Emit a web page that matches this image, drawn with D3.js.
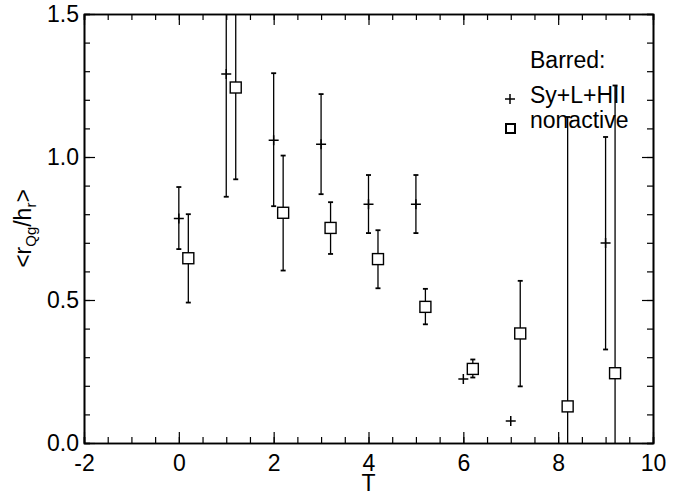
<!DOCTYPE html>
<html>
<head>
<meta charset="UTF-8">
<title>r_Qg/h_r vs T</title>
<script src="https://d3js.org/d3.v7.min.js"></script>
<style>
  body { margin: 0; background: #fff; }
  svg text { font-family: "Liberation Sans", Arial, sans-serif; fill: #000; }
</style>
</head>
<body>
<div id="chart"></div>
<script>
// Sy+L+HII (plus symbols)
var plusT = [0, 1, 2, 3, 4, 5, 6, 7, 9];
var plusVal = [0.785, 1.290, 1.059, 1.045, 0.835, 0.835, 0.224, 0.077, 0.699];
var plusLo = [0.678, 0.861, 0.828, 0.870, 0.734, 0.734, null, null, 0.327];
var plusHi = [0.895, 1.720, 1.293, 1.220, 0.937, 0.937, null, null, 1.070];

// nonactive (squares)
var sqT = [0.2, 1.2, 2.2, 3.2, 4.2, 5.2, 6.2, 7.2, 8.2, 9.2];
var sqVal = [0.646, 1.243, 0.805, 0.752, 0.643, 0.476, 0.259, 0.383, 0.128, 0.244];
var sqLo = [0.491, 0.922, 0.603, 0.661, 0.541, 0.415, 0.229, 0.198, -0.88, -0.76];
var sqHi = [0.800, 1.760, 1.005, 0.842, 0.744, 0.539, 0.292, 0.567, 1.140, 1.250];

var xTicks = [-2, 0, 2, 4, 6, 8, 10];
var yTicks = [0, 0.5, 1.0, 1.5];

var W = 680, H = 496;
var margin = { top: 14, right: 27, bottom: 53, left: 84 };
var width = W - margin.left - margin.right,
    height = H - margin.top - margin.bottom;
var fs = 23;

var svg = d3.select("#chart").append("svg")
    .attr("width", W).attr("height", H);

var g = svg.append("g")
    .attr("transform", "translate(" + margin.left + "," + margin.top + ")");

var x = d3.scaleLinear().domain([-2, 10]).range([0, width]);
var y = d3.scaleLinear().domain([0, 1.5]).range([height, 0]);

svg.append("defs").append("clipPath").attr("id", "plotclip")
  .append("rect").attr("width", width).attr("height", height);

// axes: all four sides, ticks pointing inward
var xMinor = d3.range(-2, 10.01, 0.5);
var yMinor = d3.range(0, 1.501, 0.1);

function axisStyle(sel) {
  sel.selectAll(".domain").attr("stroke", "#000").attr("stroke-width", 1.6);
  sel.selectAll(".tick line").attr("stroke", "#000").attr("stroke-width", 1.2);
  sel.selectAll("text").attr("font-size", fs).attr("fill", "#000")
     .style("font-family", "'Liberation Sans', Arial, sans-serif");
}

// bottom minor + major
g.append("g").attr("transform", "translate(0," + height + ")")
  .call(d3.axisBottom(x).tickValues(xMinor).tickSize(-6).tickFormat(""))
  .call(axisStyle);
g.append("g").attr("transform", "translate(0," + height + ")")
  .call(d3.axisBottom(x).tickValues(xTicks).tickSizeInner(-11).tickSizeOuter(0)
        .tickPadding(12).tickFormat(function (d) { return String(d); }))
  .call(axisStyle);
// top
g.append("g")
  .call(d3.axisTop(x).tickValues(xMinor).tickSize(-6).tickFormat(""))
  .call(axisStyle);
g.append("g")
  .call(d3.axisTop(x).tickValues(xTicks).tickSizeInner(-11).tickSizeOuter(0).tickFormat(""))
  .call(axisStyle);
// left
g.append("g")
  .call(d3.axisLeft(y).tickValues(yMinor).tickSize(-6).tickFormat(""))
  .call(axisStyle);
g.append("g")
  .call(d3.axisLeft(y).tickValues(yTicks).tickSizeInner(-11).tickSizeOuter(0)
        .tickPadding(5).tickFormat(d3.format(".1f")))
  .call(axisStyle);
// right
g.append("g").attr("transform", "translate(" + width + ",0)")
  .call(d3.axisRight(y).tickValues(yMinor).tickSize(-6).tickFormat(""))
  .call(axisStyle);
g.append("g").attr("transform", "translate(" + width + ",0)")
  .call(d3.axisRight(y).tickValues(yTicks).tickSizeInner(-11).tickSizeOuter(0).tickFormat(""))
  .call(axisStyle);

// axis titles
svg.append("text")
  .attr("x", margin.left + width / 2).attr("y", H - 5)
  .attr("text-anchor", "middle").attr("font-size", fs).text("T");

var yl = svg.append("text")
  .attr("transform", "translate(31," + (margin.top + height / 2) + ") rotate(-90)")
  .attr("text-anchor", "middle").attr("font-size", fs);
yl.append("tspan").text("<r");
yl.append("tspan").attr("font-size", 15).attr("dy", 5).text("Qg");
yl.append("tspan").attr("dy", -5).text("/h");
yl.append("tspan").attr("font-size", 15).attr("dy", 5).text("r");
yl.append("tspan").attr("dy", -5).text(">");

// data layer
var plot = g.append("g").attr("clip-path", "url(#plotclip)");

function errorBars(T, lo, hi) {
  var d = T.map(function (t, i) { return { t: t, lo: lo[i], hi: hi[i] }; })
           .filter(function (e) { return e.lo !== null; });
  var eb = plot.append("g").attr("stroke", "#000").attr("stroke-width", 1.3);
  eb.selectAll(".v").data(d).enter().append("line")
    .attr("x1", function (e) { return x(e.t); }).attr("x2", function (e) { return x(e.t); })
    .attr("y1", function (e) { return y(e.lo); }).attr("y2", function (e) { return y(e.hi); });
  ["lo", "hi"].forEach(function (k) {
    eb.selectAll(".c" + k).data(d).enter().append("line")
      .attr("x1", function (e) { return x(e.t) - 2.5; }).attr("x2", function (e) { return x(e.t) + 2.5; })
      .attr("y1", function (e) { return y(e[k]); }).attr("y2", function (e) { return y(e[k]); })
      .attr("stroke-width", 1.8);
  });
}
errorBars(plusT, plusLo, plusHi);
errorBars(sqT, sqLo, sqHi);

plot.selectAll(".plus").data(plusT).enter().append("path")
  .attr("transform", function (t, i) { return "translate(" + x(t) + "," + y(plusVal[i]) + ")"; })
  .attr("d", "M-5,0H5M0,-5V5")
  .attr("stroke", "#000").attr("stroke-width", 1.5).attr("fill", "none");

plot.selectAll(".sq").data(sqT).enter().append("rect")
  .attr("x", function (t) { return x(t) - 5.5; })
  .attr("y", function (t, i) { return y(sqVal[i]) - 5.5; })
  .attr("width", 11).attr("height", 11)
  .attr("fill", "#fff").attr("stroke", "#000").attr("stroke-width", 1.4);

// legend
var leg = g.append("g");
leg.append("text").attr("x", 446).attr("y", 54).attr("font-size", fs).text("Barred:");
leg.append("path").attr("transform", "translate(426,85)")
  .attr("d", "M-5,0H5M0,-5V5").attr("stroke", "#000").attr("stroke-width", 1.5);
leg.append("text").attr("x", 446).attr("y", 89).attr("font-size", fs).text("Sy+L+HII");
leg.append("rect").attr("x", 422).attr("y", 110).attr("width", 9).attr("height", 9)
  .attr("fill", "none").attr("stroke", "#000").attr("stroke-width", 2);
leg.append("text").attr("x", 446).attr("y", 114).attr("font-size", fs).text("nonactive");
</script>
</body>
</html>
